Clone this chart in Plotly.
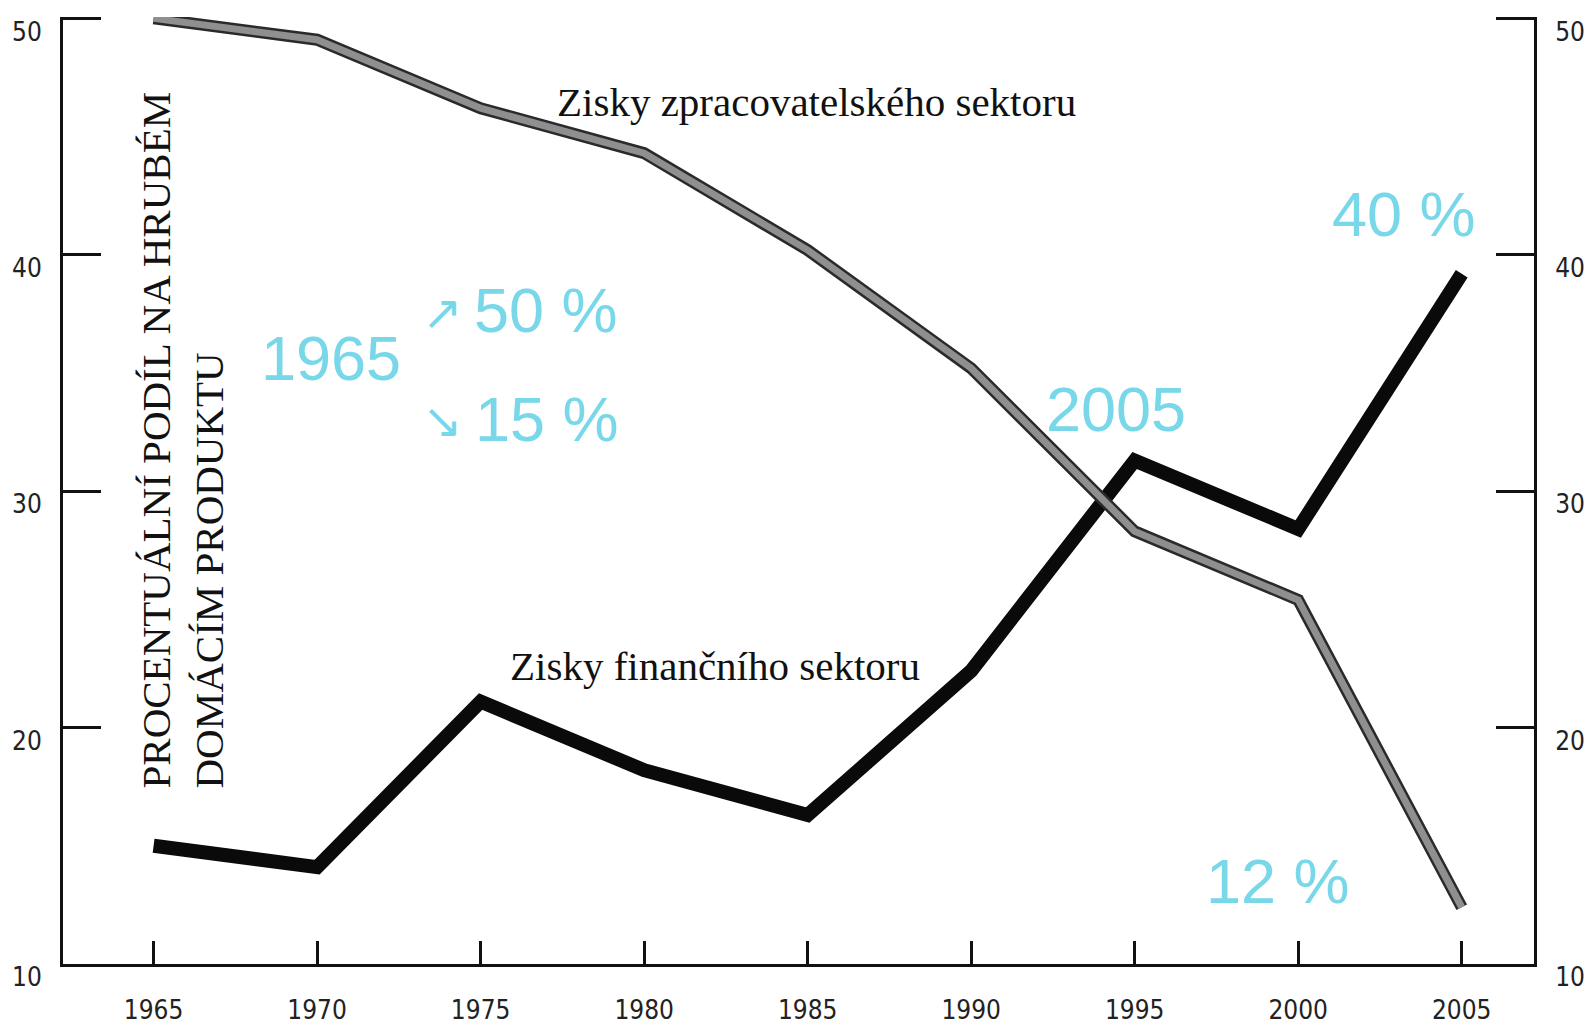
import plotly.graph_objects as go

# ---- data ----
years = [1965, 1970, 1975, 1980, 1985, 1990, 1995, 2000, 2005]
financial = [15.0, 14.1, 21.1, 18.2, 16.3, 22.4, 31.3, 28.4, 39.2]
manufacturing = [50.0, 49.1, 46.2, 44.3, 40.2, 35.2, 28.3, 25.4, 12.4]
y_ticks = [10, 20, 30, 40, 50]
x_ticks = years
x_tick_labels = [str(y) for y in years]

label_manuf = "Zisky zpracovatelského sektoru"
label_fin = "Zisky finančního sektoru"
y_title = "PROCENTUÁLNÍ PODÍL NA HRUBÉM<br>DOMÁCÍM PRODUKTU"

# ---- layout geometry ----
OFF = 8                      # default page body margin
W, H = 1595 - OFF, 1034 - 2 * OFF
L_SCR, R_SCR, B_SCR = 63, 1534, 964
M_L, M_R, M_T, M_B = L_SCR - OFF, W - (R_SCR - OFF), 9, H - (B_SCR - OFF)
X0, X1 = 1962.23, 2007.21
Y0 = 10
PX_PER_UNIT = 23.64
Y1 = Y0 + (H - M_T - M_B) / PX_PER_UNIT
PX_PER_YEAR = (R_SCR - L_SCR) / (X1 - X0)


def px2x(px):
    return X0 + (px - L_SCR) / PX_PER_YEAR


def px2y(py):
    return Y0 + (B_SCR - py) / PX_PER_UNIT


CYAN = "#78D7E8"
SERIF = "Liberation Serif, Times New Roman, serif"
COND = "Liberation Sans Narrow, DejaVu Sans Condensed, sans-serif"
SANS = "Liberation Sans, Arial, sans-serif"

fig = go.Figure()

# financial sector (thick black)
fig.add_trace(go.Scatter(x=years, y=financial, mode="lines",
                         line=dict(color="#0a0a0a", width=14),
                         hoverinfo="skip", showlegend=False))
# manufacturing (outlined gray band)
fig.add_trace(go.Scatter(x=years, y=manufacturing, mode="lines",
                         line=dict(color="#2a2a2a", width=12),
                         hoverinfo="skip", showlegend=False))
fig.add_trace(go.Scatter(x=years, y=manufacturing, mode="lines",
                         line=dict(color="#8f8f8f", width=7),
                         hoverinfo="skip", showlegend=False))
# invisible trace to hold the right axis
fig.add_trace(go.Scatter(x=years, y=financial, mode="lines", yaxis="y2",
                         line=dict(color="rgba(0,0,0,0)", width=0),
                         hoverinfo="skip", showlegend=False))

axis_common = dict(showgrid=False, zeroline=False, showline=True,
                   linecolor="#111", linewidth=3, ticks="inside",
                   tickcolor="#111", tickwidth=3)

fig.update_layout(
    width=W, height=H,
    margin=dict(l=M_L, r=M_R, t=M_T, b=M_B, autoexpand=False),
    paper_bgcolor="white", plot_bgcolor="white",
    xaxis=dict(range=[X0, X1], tickvals=x_ticks, ticktext=x_tick_labels,
               ticklen=23, ticklabelstandoff=21,
               tickfont=dict(family=COND, size=26, color="#222"),
               **axis_common),
    yaxis=dict(range=[Y0, Y1], tickvals=y_ticks, ticklen=38,
               ticklabelstandoff=13, ticklabelshift=13,
               tickfont=dict(family=COND, size=26, color="#222"),
               **axis_common),
    yaxis2=dict(range=[Y0, Y1], tickvals=y_ticks, ticklen=38, overlaying="y",
                side="right", ticklabelstandoff=13, ticklabelshift=13,
                tickfont=dict(family=COND, size=26, color="#222"),
                **axis_common),
)

ann = []
ann.append(dict(x=px2x(816), y=px2y(102), text=label_manuf, showarrow=False,
                font=dict(family=SERIF, size=41, color="#111"),
                xanchor="center", yanchor="middle"))
ann.append(dict(x=px2x(715), y=px2y(666), text=label_fin, showarrow=False,
                font=dict(family=SERIF, size=41, color="#111"),
                xanchor="center", yanchor="middle"))
ann.append(dict(x=px2x(182), y=px2y(791), text=y_title, showarrow=False, textangle=-90,
                align="left", font=dict(family=SERIF, size=41, color="#111"),
                xanchor="center", yanchor="bottom"))


def cyan(px, py, t, size=63, fam=SANS):
    ann.append(dict(x=px2x(px), y=px2y(py), text=t, showarrow=False,
                    font=dict(family=fam, size=size, color=CYAN),
                    xanchor="center", yanchor="middle"))


cyan(331, 358, "1965")
cyan(546, 310, "50 %")
cyan(442, 312, "↗", size=48, fam="DejaVu Sans, sans-serif")
cyan(547, 419, "15 %")
cyan(442, 420, "↘", size=48, fam="DejaVu Sans, sans-serif")
cyan(1116, 409, "2005")
cyan(1404, 214, "40 %")
cyan(1278, 881, "12 %")

fig.update_layout(annotations=ann)
fig.write_html("out.html")
